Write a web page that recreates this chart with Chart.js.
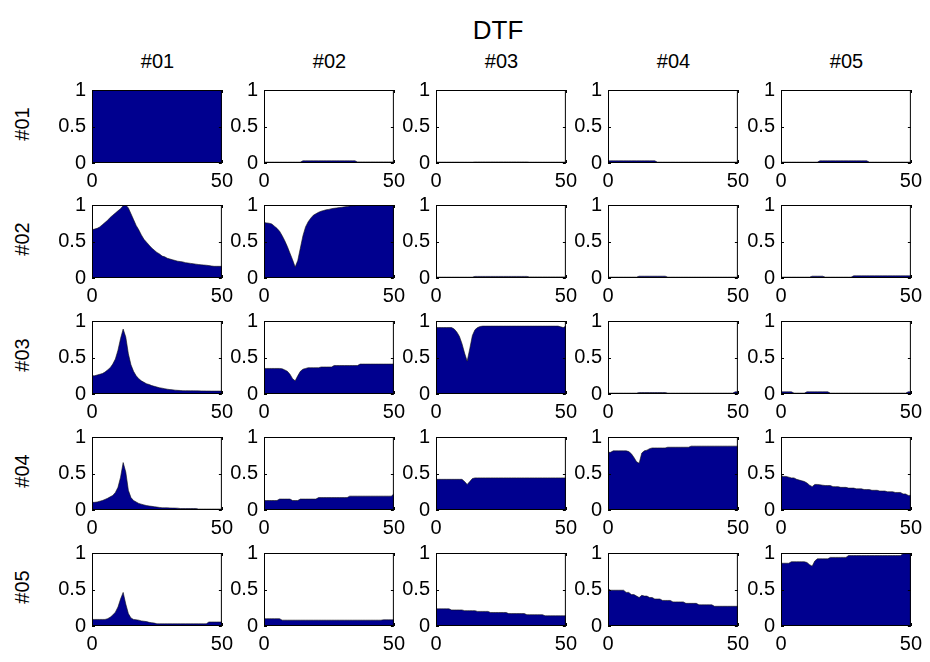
<!DOCTYPE html>
<html lang="en">
<head>
    <meta charset="UTF-8">
    <title>DTF</title>
    <script src="https://cdn.jsdelivr.net/npm/chart.js@4/dist/chart.umd.min.js"></script>
    <style>
        html, body { margin: 0; padding: 0; background: #fff; }
        #fig { position: relative; width: 930px; height: 662px; overflow: hidden; font-family: "Liberation Sans", Arial, sans-serif; color: #000; }
        #fig canvas { position: absolute; }
        .lbl { position: absolute; white-space: nowrap; }
    </style>
</head>
<body>
<div id="fig">
    <div class="lbl" id="title" style="font-size:26px;">DTF</div>
</div>

<script>
    // channel names and frequency bins
    const channels = ['#01', '#02', '#03', '#04', '#05'];
    const freqs = [0,1,2,3,4,5,6,7,8,9,10,11,12,13,14,15,16,17,18,19,20,21,22,23,24,25,26,27,28,29,30,31,32,33,34,35,36,37,38,39,40,41,42,43,44,45,46,47,48,49,50];
    const yTicks = [0, 0.5, 1];
    const xTicks = [0, 50];

    // DTF values, row = target channel, col = source channel
    const dtf11 = [1,1,1,1,1,1,1,1,1,1, 1,1,1,1,1,1,1,1,1,1, 1,1,1,1,1,1,1,1,1,1, 1,1,1,1,1,1,1,1,1,1, 1,1,1,1,1,1,1,1,1,1, 1];
    const dtf12 = [.012,.012,.012,.012,.012,.012,.012,.012,.012,.012, .012,.012,.012,.012,.012,.03,.03,.03,.03,.03, .03,.03,.03,.03,.03,.03,.03,.03,.03,.03, .03,.03,.03,.03,.03,.03,.015,.015,.015,.015, .015,.015,.015,.015,.015,.015,.015,.015,.015,.015, .015];
    const dtf13 = [.012,.012,.012,.012,.012,.012,.012,.012,.012,.012, .012,.012,.012,.012,.012,.015,.015,.015,.015,.015, .015,.015,.015,.015,.015,.015,.015,.015,.015,.015, .015,.015,.015,.015,.015,.015,.012,.012,.012,.012, .012,.012,.012,.012,.012,.012,.012,.012,.012,.012, .012];
    const dtf14 = [.03,.03,.03,.03,.03,.03,.03,.03,.03,.03, .03,.03,.03,.03,.03,.03,.03,.03,.03,.012, .012,.012,.012,.012,.012,.012,.012,.012,.012,.012, .012,.012,.012,.012,.012,.012,.012,.012,.012,.012, .012,.012,.012,.012,.012,.012,.012,.012,.012,.012, .012];
    const dtf15 = [.012,.012,.012,.012,.012,.012,.012,.012,.012,.012, .012,.012,.012,.012,.012,.03,.03,.03,.03,.03, .03,.03,.03,.03,.03,.03,.03,.03,.03,.03, .03,.03,.03,.03,.012,.012,.012,.012,.012,.012, .012,.012,.012,.012,.012,.012,.012,.012,.012,.012, .012];

    const dtf21 = [.66,.67,.68,.70,.73,.76,.79,.83,.86,.89, .92,.95,.99,1.0,.96,.88,.80,.72,.66,.59, .53,.49,.45,.41,.38,.35,.33,.30,.29,.27, .26,.25,.24,.23,.225,.22,.21,.205,.20,.195, .19,.185,.18,.178,.175,.17,.165,.16,.16,.16, .16];
    const dtf22 = [.76,.755,.75,.74,.71,.68,.64,.58,.51,.43, .34,.25,.15,.24,.41,.58,.70,.77,.82,.86, .88,.90,.915,.925,.935,.94,.95,.955,.96,.965, .97,.975,.98,.985,.99,.99,.995,.995,.995,1.0, 1.0,1.0,1.0,1.0,1.0,1.0,1.0,1.0,1.0,1.0, 1.0];
    const dtf23 = [.012,.012,.012,.012,.012,.012,.012,.012,.012,.012, .012,.012,.012,.012,.012,.022,.022,.022,.022,.022, .022,.022,.022,.022,.022,.022,.022,.022,.022,.022, .022,.022,.022,.022,.022,.022,.015,.015,.015,.015, .015,.015,.015,.015,.015,.015,.015,.015,.015,.015, .015];
    const dtf24 = [.012,.012,.012,.012,.012,.012,.012,.012,.012,.012, .012,.012,.025,.025,.025,.025,.025,.025,.025,.025, .025,.025,.025,.012,.012,.012,.012,.012,.012,.012, .012,.012,.012,.012,.012,.012,.012,.012,.012,.012, .012,.012,.012,.012,.012,.012,.012,.012,.012,.012, .012];
    const dtf25 = [.012,.012,.012,.012,.012,.012,.012,.012,.012,.012, .012,.012,.025,.025,.025,.025,.025,.012,.012,.012, .012,.012,.012,.012,.012,.012,.012,.012,.03,.03, .03,.03,.03,.03,.03,.03,.03,.03,.03,.03, .03,.03,.03,.03,.03,.03,.03,.03,.03,.03, .03];

    const dtf31 = [.25,.25,.26,.27,.28,.30,.33,.36,.41,.48, .60,.76,.89,.78,.55,.40,.31,.25,.21,.18, .16,.14,.13,.115,.105,.095,.085,.08,.072,.066, .06,.057,.053,.05,.048,.045,.045,.045,.044,.044, .043,.043,.042,.042,.041,.041,.04,.04,.04,.04, .04];
    const dtf32 = [.35,.35,.35,.35,.35,.35,.35,.345,.33,.31, .27,.21,.18,.25,.31,.34,.35,.36,.36,.36, .36,.36,.37,.37,.37,.37,.37,.39,.39,.39, .39,.39,.39,.39,.39,.39,.39,.41,.41,.41, .41,.41,.41,.41,.41,.41,.41,.41,.41,.41, .41];
    const dtf33 = [.91,.91,.91,.91,.91,.91,.91,.89,.85,.79, .69,.56,.45,.62,.80,.88,.91,.925,.93,.93, .93,.93,.93,.93,.93,.93,.93,.93,.93,.93, .93,.93,.93,.93,.93,.93,.93,.93,.93,.93, .93,.93,.93,.93,.93,.93,.93,.93,.92,.91, .93];
    const dtf34 = [.012,.012,.012,.012,.012,.012,.012,.012,.012,.012, .012,.012,.02,.02,.02,.02,.02,.02,.02,.02, .02,.02,.02,.012,.012,.012,.012,.012,.012,.012, .012,.012,.012,.012,.012,.012,.012,.012,.012,.012, .012,.012,.012,.012,.012,.012,.012,.012,.012,.03, .03];
    const dtf35 = [.03,.03,.03,.03,.03,.012,.012,.012,.012,.012, .03,.03,.03,.03,.03,.03,.03,.03,.03,.012, .012,.012,.012,.012,.012,.012,.012,.012,.012,.012, .012,.012,.012,.012,.012,.012,.012,.012,.012,.012, .012,.012,.012,.012,.012,.012,.012,.012,.012,.03, .03];

    const dtf41 = [.105,.105,.11,.12,.13,.145,.16,.18,.20,.24, .31,.45,.65,.52,.27,.17,.13,.11,.09,.08, .07,.06,.055,.05,.045,.04,.035,.03,.03,.03, .028,.027,.026,.025,.02,.02,.02,.02,.02,.02, .02,.013,.013,.013,.013,.013,.013,.013,.013,.013, .013];
    const dtf42 = [.13,.13,.13,.13,.13,.13,.15,.15,.15,.15, .15,.13,.13,.13,.15,.15,.15,.15,.15,.15, .15,.17,.17,.17,.17,.17,.17,.17,.17,.17, .17,.17,.17,.19,.19,.19,.19,.19,.19,.19, .19,.19,.19,.19,.19,.19,.19,.19,.19,.19, .22];
    const dtf43 = [.42,.42,.42,.42,.42,.42,.42,.42,.42,.42, .42,.39,.35,.39,.43,.44,.44,.44,.44,.44, .44,.44,.44,.44,.44,.44,.44,.44,.44,.44, .44,.44,.44,.44,.44,.44,.44,.44,.44,.44, .44,.44,.44,.44,.44,.44,.44,.44,.44,.44, .44];
    const dtf44 = [.79,.79,.81,.81,.81,.81,.81,.81,.80,.77, .72,.66,.64,.78,.81,.82,.84,.85,.85,.85, .85,.85,.85,.86,.86,.86,.86,.86,.86,.86, .86,.86,.875,.875,.875,.875,.875,.875,.875,.875, .875,.875,.875,.875,.875,.875,.875,.875,.875,.875, .875];
    const dtf45 = [.47,.46,.46,.45,.44,.44,.42,.41,.40,.39, .37,.34,.32,.35,.35,.345,.34,.335,.335,.335, .32,.32,.32,.31,.31,.31,.30,.30,.30,.29, .29,.29,.28,.28,.28,.27,.27,.27,.26,.26, .26,.25,.25,.25,.24,.24,.24,.22,.22,.20, .20];

    const dtf51 = [.09,.09,.09,.09,.09,.09,.10,.12,.15,.19, .26,.37,.46,.30,.17,.11,.09,.085,.08,.07, .065,.06,.05,.045,.04,.03,.03,.03,.03,.03, .03,.03,.03,.03,.03,.03,.03,.03,.03,.03, .03,.03,.03,.03,.03,.055,.055,.055,.055,.055, .055];
    const dtf52 = [.10,.10,.10,.10,.10,.10,.10,.08,.08,.08, .08,.08,.08,.08,.08,.08,.08,.08,.08,.08, .08,.08,.08,.08,.08,.08,.08,.08,.08,.08, .08,.08,.08,.08,.08,.08,.08,.08,.08,.08, .08,.08,.08,.08,.08,.08,.085,.085,.085,.085, .085];
    const dtf53 = [.235,.235,.235,.235,.235,.235,.22,.22,.22,.22, .22,.21,.21,.21,.21,.21,.20,.20,.20,.20, .20,.185,.185,.185,.185,.185,.185,.185,.17,.17, .17,.17,.17,.17,.17,.155,.155,.155,.155,.155, .155,.155,.14,.14,.14,.14,.14,.14,.14,.14, .14];
    const dtf54 = [.51,.49,.49,.49,.49,.49,.49,.46,.46,.43, .43,.41,.39,.42,.41,.41,.39,.39,.37,.37, .37,.35,.35,.35,.35,.33,.33,.33,.33,.33, .31,.31,.31,.31,.31,.29,.29,.29,.29,.29, .29,.27,.27,.27,.27,.27,.27,.27,.27,.27, .27];
    const dtf55 = [.86,.86,.86,.86,.88,.88,.88,.88,.88,.88, .87,.84,.82,.89,.92,.92,.92,.92,.92,.94, .94,.94,.94,.94,.94,.94,.965,.965,.965,.965, .965,.965,.965,.965,.965,.965,.965,.965,.965,.965, .965,.965,.965,.965,.965,.965,.965,.99,.99,.99, .99];

    const grid = [
        [dtf11, dtf12, dtf13, dtf14, dtf15],
        [dtf21, dtf22, dtf23, dtf24, dtf25],
        [dtf31, dtf32, dtf33, dtf34, dtf35],
        [dtf41, dtf42, dtf43, dtf44, dtf45],
        [dtf51, dtf52, dtf53, dtf54, dtf55]
    ];

    // layout of the subplot axes (pixels)
    const colLeft = [92, 264, 436, 608, 781];
    const rowTop = [84, 199, 315, 431, 547];
    const plotW = 131, plotH = 79;
    const padL = 48, padT = 12, padR = 16, padB = 34;

    const fig = document.getElementById('fig');
    const title = document.getElementById('title');
    title.style.left = '498px';
    title.style.top = '15px';
    title.style.transform = 'translateX(-50%)';

    channels.forEach((name, i) => {
        const head = document.createElement('div');
        head.className = 'lbl';
        head.textContent = name;
        head.style.fontSize = '20px';
        head.style.left = (colLeft[i] + plotW / 2) + 'px';
        head.style.top = '50px';
        head.style.transform = 'translateX(-50%)';
        fig.appendChild(head);

        const side = document.createElement('div');
        side.className = 'lbl';
        side.textContent = name;
        side.style.fontSize = '20px';
        side.style.left = '22px';
        side.style.top = (rowTop[i] + plotH / 2) + 'px';
        side.style.transform = 'translate(-50%, -50%) rotate(-90deg)';
        fig.appendChild(side);
    });

    // box around the axes and MATLAB-style inward ticks
    const boxPlugin = {
        id: 'box',
        afterDatasetsDraw(chart) {
            const { ctx, chartArea: a, scales } = chart;
            ctx.save();
            ctx.strokeStyle = '#000';
            ctx.lineWidth = 1;
            ctx.strokeRect(a.left + 0.5, a.top + 0.5, a.right - a.left - 1, a.bottom - a.top - 1);
            ctx.beginPath();
            yTicks.forEach(v => {
                const y = Math.round(scales.y.getPixelForValue(v)) + 0.5;
                ctx.moveTo(a.left, y); ctx.lineTo(a.left + 3, y);
                ctx.moveTo(a.right, y); ctx.lineTo(a.right - 3, y);
            });
            xTicks.forEach(v => {
                const x = Math.round(scales.x.getPixelForValue(v)) + 0.5;
                ctx.moveTo(x, a.bottom); ctx.lineTo(x, a.bottom - 3);
                ctx.moveTo(x, a.top); ctx.lineTo(x, a.top + 3);
            });
            ctx.stroke();
            ctx.restore();
        }
    };

    const tickFont = { family: '"Liberation Sans", Arial, sans-serif', size: 20 };

    grid.forEach((row, r) => {
        row.forEach((vals, c) => {
            const cv = document.createElement('canvas');
            cv.width = padL + plotW + padR;
            cv.height = padT + plotH + padB;
            cv.style.left = (colLeft[c] - padL) + 'px';
            cv.style.top = (rowTop[r] - padT) + 'px';
            fig.appendChild(cv);

            new Chart(cv.getContext('2d'), {
                type: 'line',
                data: {
                    datasets: [{
                        data: freqs.map((f, i) => ({ x: f, y: vals[i] })),
                        fill: 'origin',
                        backgroundColor: '#00008f',
                        borderColor: '#111',
                        borderWidth: 0.6,
                        pointRadius: 0,
                        tension: 0
                    }]
                },
                options: {
                    responsive: false,
                    animation: false,
                    devicePixelRatio: 1,
                    events: [],
                    layout: { padding: { top: padT, right: padR, left: 0, bottom: 0 } },
                    plugins: { legend: { display: false }, tooltip: { enabled: false } },
                    scales: {
                        x: {
                            type: 'linear',
                            min: 0,
                            max: 50,
                            afterBuildTicks: s => { s.ticks = xTicks.map(v => ({ value: v })); },
                            afterFit: s => { s.height = padB; },
                            ticks: { color: '#000', font: tickFont, padding: 6, maxRotation: 0, autoSkip: false },
                            grid: { display: false, drawTicks: false },
                            border: { display: false }
                        },
                        y: {
                            min: 0,
                            max: 1,
                            afterBuildTicks: s => { s.ticks = yTicks.map(v => ({ value: v })); },
                            afterFit: s => { s.width = padL; },
                            ticks: { color: '#000', font: tickFont, padding: 6, callback: v => String(v) },
                            grid: { display: false, drawTicks: false },
                            border: { display: false }
                        }
                    }
                },
                plugins: [boxPlugin]
            });
        });
    });
</script>
</body>
</html>
